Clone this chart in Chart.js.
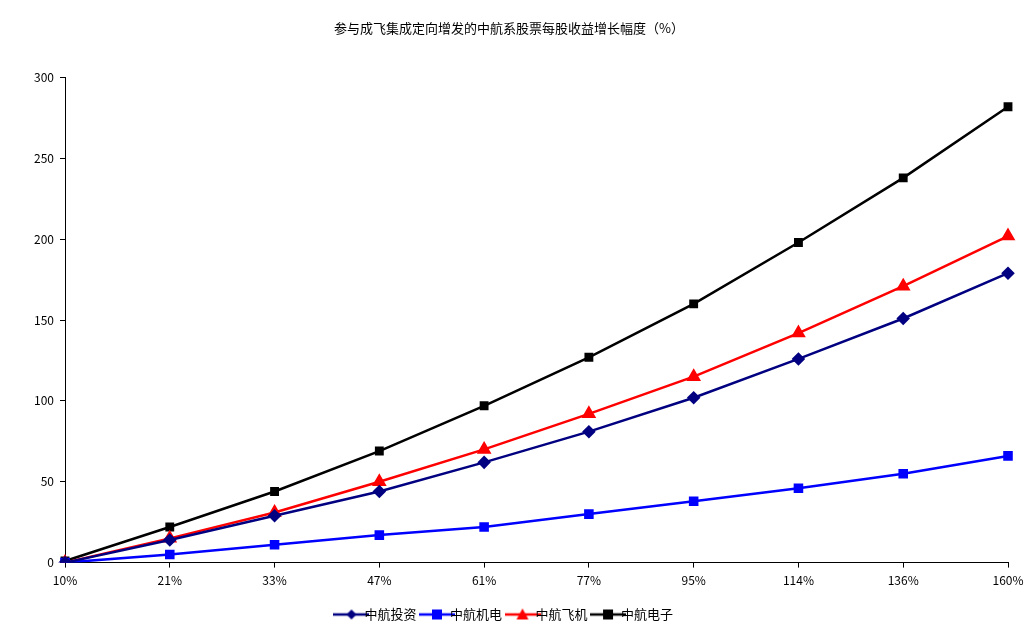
<!DOCTYPE html>
<html><head><meta charset="utf-8">
<script src="https://cdn.jsdelivr.net/npm/chart.js@4/dist/chart.umd.min.js"></script>
<style>html,body{margin:0;padding:0;background:#fff}#w{width:1034px;height:635px}</style>
</head><body><div id="w"><canvas id="c"></canvas></div>
<script>
const categories = ["10%","21%","33%","47%","61%","77%","95%","114%","136%","160%"];
const avicInvest = [0,14,29,44,62,81,102,126,151,179];
const avicElectromech = [0,5,11,17,22,30,38,46,55,66];
const avicAircraft = [0,15,31,50,70,92,115,142,171,202];
const avicElectronics = [1,22,44,69,97,127,160,198,238,282];
const yTicks = [0,50,100,150,200,250,300];
const title = "参与成飞集成定向增发的中航系股票每股收益增长幅度（%）";
const font = "'Noto Sans CJK SC', sans-serif";
Chart.defaults.font.family = font;
Chart.defaults.color = '#000';
function legendIcon(color, style) {
  const c = document.createElement('canvas'); c.width = 36; c.height = 14;
  const g = c.getContext('2d');
  g.strokeStyle = color; g.fillStyle = color; g.lineWidth = 2.5;
  g.beginPath(); g.moveTo(0,7); g.lineTo(36,7); g.stroke();
  g.beginPath();
  if (style === 'rectRot') { g.moveTo(18,2); g.lineTo(23,7); g.lineTo(18,12); g.lineTo(13,7); }
  else if (style === 'triangle') { g.moveTo(18,1); g.lineTo(24,12); g.lineTo(12,12); }
  else { g.rect(13,2,10,10); }
  g.closePath(); g.fill();
  return c;
}
const mk = (label, data, color, style, r) => ({label, data, borderColor: color, backgroundColor: color,
  pointStyle: style, pointRadius: r, pointHoverRadius: r, borderWidth: 2.5, tension: 0,
  legendIcon: legendIcon(color, style)});
new Chart(document.getElementById('c'), {
  type: 'line',
  data: { labels: categories, datasets: [
    mk('中航投资', avicInvest, '#000080', 'rectRot', 5),
    mk('中航机电', avicElectromech, '#0000ff', 'rect', 5),
    mk('中航飞机', avicAircraft, '#ff0000', 'triangle', 6),
    mk('中航电子', avicElectronics, '#000000', 'rect', 4.5)
  ]},
  options: {
    responsive: true, maintainAspectRatio: false, animation: false,
    layout: { padding: { left: 10, right: 26, top: 14, bottom: 4 } },
    plugins: {
      title: { display: true, text: title, font: { size: 13, weight: 'normal' }, padding: { top: 6, bottom: 42 } },
      legend: { position: 'bottom', labels: { usePointStyle: true, font: { size: 13 }, padding: 14,
        generateLabels: ch => ch.data.datasets.map((d, i) => ({ text: d.label, pointStyle: d.legendIcon,
          datasetIndex: i, fillStyle: d.backgroundColor, strokeStyle: d.borderColor, lineWidth: 0 })) } },
      tooltip: { enabled: false }
    },
    scales: {
      x: { offset: false, grid: { display: true, drawOnChartArea: false, color: '#000', tickLength: 5 },
           border: { color: '#000' }, ticks: { font: { size: 12 }, maxRotation: 0, padding: 6 } },
      y: { min: 0, max: 300, grid: { display: true, drawOnChartArea: false, color: '#000', tickLength: 5 }, border: { color: '#000' },
           afterBuildTicks: a => { a.ticks = yTicks.map(v => ({value: v})); },
           afterFit: a => { a.width = 55; },
           ticks: { font: { size: 12 }, padding: 6 } }
    }
  }
});
</script></body></html>
